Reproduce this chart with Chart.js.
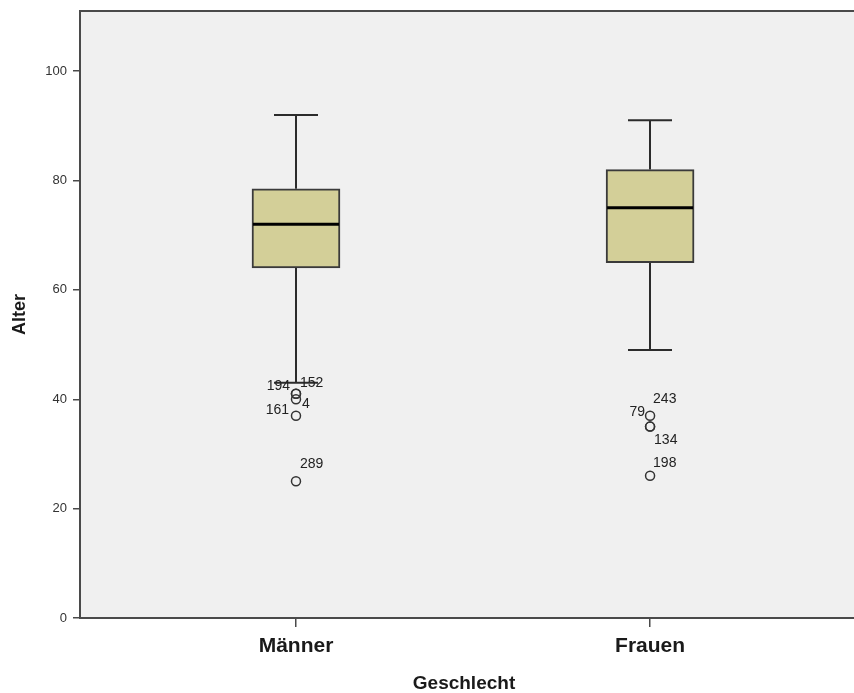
<!DOCTYPE html>
<html>
<head>
<meta charset="utf-8">
<title>Alter nach Geschlecht</title>
<script src="https://cdn.jsdelivr.net/npm/chart.js@4/dist/chart.umd.min.js"></script>
<style>
  html, body { margin: 0; padding: 0; background: #ffffff; }
  #wrap { width: 854px; height: 693px; }
</style>
</head>
<body>
<div id="wrap"><canvas id="chart" width="854" height="693"></canvas></div>
<script>
// Box plot summary per group (age in years)
const groups = ['Männer', 'Frauen'];
const whiskerLow = [43, 49];
const quartile1 = [64, 65];
const median = [72, 75];
const quartile3 = [78.5, 82];
const whiskerHigh = [92, 91];

// Outliers and their case numbers
const outlierValues = [[41, 41, 40, 37, 25], [37, 35, 35, 26]];
const outlierIds = [['194', '152', '4', '161', '289'], ['243', '79', '134', '198']];

const yTicks = [0, 20, 40, 60, 80, 100];

// Label placement around each outlier marker (pixels), so the case numbers don't collide
const labelPlacement = [
  [{dx: -6, dy: -8, align: 'right'}, {dx: 4, dy: -11, align: 'left'}, {dx: 6, dy: 5, align: 'left'},
   {dx: -7, dy: -6, align: 'right'}, {dx: 4, dy: -17, align: 'left'}],
  [{dx: 3, dy: -17, align: 'left'}, {dx: -5, dy: -14, align: 'right'}, {dx: 4, dy: 14, align: 'left'},
   {dx: 3, dy: -13, align: 'left'}]
];

const FONT = "'Liberation Sans', Arial, sans-serif";
const AXIS = '#4a4a4a';
const INK = '#2b2b2b';

const boxData = groups.map((g, i) => ({x: i + 1, y: [quartile1[i], quartile3[i]]}));
const outlierData = [];
groups.forEach((g, i) => outlierValues[i].forEach(v => outlierData.push({x: i + 1, y: v})));

// Plot background, frame lines, whiskers, medians and case labels
const boxplotParts = {
  id: 'boxplotParts',
  beforeDraw(chart) {
    const {ctx, chartArea: a} = chart;
    ctx.save();
    ctx.fillStyle = '#f0f0f0';
    ctx.fillRect(a.left, a.top, chart.width - a.left, a.bottom - a.top);
    ctx.restore();
  },
  beforeDatasetsDraw(chart) {
    const {ctx, scales: {x, y}} = chart;
    ctx.save();
    ctx.strokeStyle = INK;
    ctx.lineWidth = 2;
    groups.forEach((g, i) => {
      const cx = Math.round(x.getPixelForValue(i + 1));
      const half = 22;
      const pairs = [[quartile3[i], whiskerHigh[i]], [quartile1[i], whiskerLow[i]]];
      pairs.forEach(([from, to]) => {
        const y0 = y.getPixelForValue(from), y1 = y.getPixelForValue(to);
        ctx.beginPath();
        ctx.moveTo(cx, y0);
        ctx.lineTo(cx, y1);
        ctx.moveTo(cx - half, y1);
        ctx.lineTo(cx + half, y1);
        ctx.stroke();
      });
    });
    ctx.restore();
  },
  afterDatasetsDraw(chart) {
    const {ctx, scales: {x, y}, chartArea: a} = chart;
    ctx.save();
    // medians
    ctx.strokeStyle = '#000000';
    ctx.lineWidth = 3;
    groups.forEach((g, i) => {
      const cx = x.getPixelForValue(i + 1);
      const my = y.getPixelForValue(median[i]);
      ctx.beginPath();
      ctx.moveTo(cx - 43, my);
      ctx.lineTo(cx + 43, my);
      ctx.stroke();
    });
    // case numbers next to outliers
    ctx.fillStyle = '#222222';
    ctx.font = '14px ' + FONT;
    ctx.textBaseline = 'middle';
    groups.forEach((g, i) => {
      outlierValues[i].forEach((v, k) => {
        const p = labelPlacement[i][k];
        ctx.textAlign = p.align;
        ctx.fillText(outlierIds[i][k], x.getPixelForValue(i + 1) + p.dx, y.getPixelForValue(v) + p.dy);
      });
    });
    // frame: top line and the bottom line running to the canvas edge
    ctx.strokeStyle = AXIS;
    ctx.lineWidth = 2;
    ctx.beginPath();
    ctx.moveTo(a.left, a.top);
    ctx.lineTo(chart.width, a.top);
    ctx.moveTo(a.right - 1, a.bottom);
    ctx.lineTo(chart.width, a.bottom);
    ctx.stroke();
    ctx.restore();
  }
};

new Chart(document.getElementById('chart'), {
  type: 'bar',
  data: {
    datasets: [
      {
        type: 'bar',
        data: boxData,
        backgroundColor: '#d3cf98',
        borderColor: '#3a3a3a',
        borderWidth: 2,
        borderSkipped: false,
        barThickness: 88,
        order: 2
      },
      {
        type: 'scatter',
        data: outlierData,
        pointStyle: 'circle',
        pointRadius: 4.5,
        pointBackgroundColor: 'rgba(0,0,0,0)',
        pointBorderColor: '#333333',
        pointBorderWidth: 1.5,
        order: 1
      }
    ]
  },
  options: {
    responsive: false,
    animation: false,
    layout: {padding: {top: 11, right: 0, left: 0, bottom: 0}},
    plugins: {legend: {display: false}, tooltip: {enabled: false}},
    scales: {
      x: {
        type: 'linear',
        offset: false,
        min: 0.39,
        max: 2.559,
        afterBuildTicks(scale) { scale.ticks = groups.map((g, i) => ({value: i + 1})); },
        afterFit(scale) { scale.height = 75; scale.paddingRight = 0; scale.paddingLeft = 0; },
        ticks: {
          autoSkip: false,
          maxRotation: 0,
          padding: 7,
          color: '#1a1a1a',
          font: {family: FONT, size: 21, weight: 'bold'},
          callback: v => groups[v - 1]
        },
        grid: {display: true, offset: false, drawOnChartArea: false, drawTicks: true, tickLength: 9, color: AXIS, lineWidth: 1.5},
        border: {display: true, color: AXIS, width: 2},
        title: {
          display: true,
          text: 'Geschlecht',
          color: '#1a1a1a',
          font: {family: FONT, size: 19, weight: 'bold', lineHeight: 1},
          padding: {top: 0, bottom: 0}
        }
      },
      y: {
        type: 'linear',
        min: 0,
        max: 111,
        afterBuildTicks(scale) { scale.ticks = yTicks.map(v => ({value: v})); },
        afterFit(scale) { scale.width = 80; scale.paddingTop = 0; scale.paddingBottom = 0; },
        ticks: {
          padding: 6,
          color: '#333333',
          font: {family: FONT, size: 13}
        },
        grid: {display: true, drawOnChartArea: false, drawTicks: true, tickLength: 7, color: AXIS, lineWidth: 1.5},
        border: {display: true, color: AXIS, width: 2},
        title: {
          display: true,
          text: 'Alter',
          color: '#1a1a1a',
          font: {family: FONT, size: 18, weight: 'bold'},
          padding: {top: 9, bottom: 0}
        }
      }
    }
  },
  plugins: [boxplotParts]
});
</script>
</body>
</html>
